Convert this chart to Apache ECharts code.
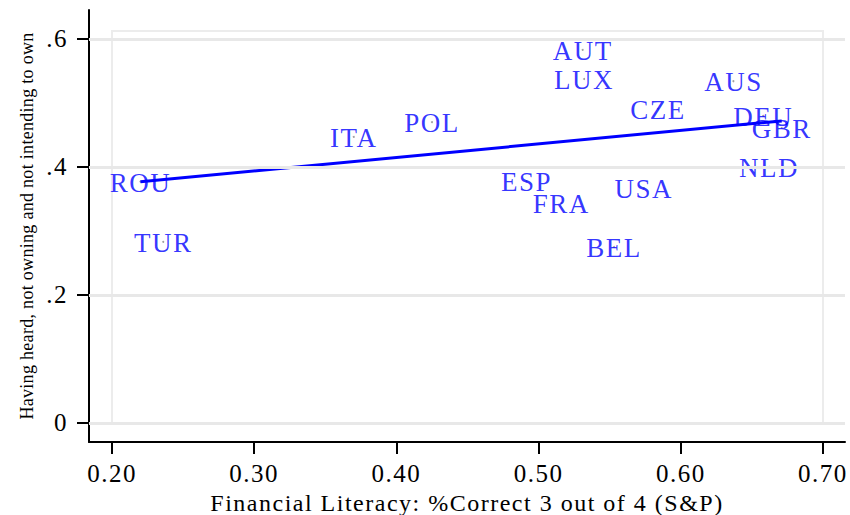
<!DOCTYPE html>
<html>
<head>
<meta charset="utf-8">
<script src="https://cdn.jsdelivr.net/npm/echarts@6/dist/echarts.min.js"></script>
<style>
  html, body { margin: 0; padding: 0; background: #fff; }
  #chart { width: 850px; height: 515px; }
  /* Stata-like loose tracking on the serif text */
  #chart svg text { letter-spacing: 1.5px; }
  #chart svg text[style*="18px"] { letter-spacing: 0.3px; }
</style>
</head>
<body>
<div id="chart"></div>
<script>
// Country codes and their values
const countries = ['ROU', 'TUR', 'ITA', 'POL', 'AUT', 'LUX', 'CZE', 'AUS', 'DEU', 'GBR', 'NLD', 'ESP', 'FRA', 'USA', 'BEL'];
const literacy  = [0.220, 0.236, 0.370, 0.425, 0.531, 0.532, 0.584, 0.637, 0.658, 0.671, 0.662, 0.4915, 0.516, 0.574, 0.553];
const heardNotOwning = [0.377, 0.283, 0.447, 0.470, 0.583, 0.5375, 0.491, 0.534, 0.480, 0.461, 0.400, 0.378, 0.344, 0.367, 0.275];

// Linear fit endpoints
const fitX = [0.220, 0.671];
const fitY = [0.377, 0.472];

// Tick labels
const xTicks = [0.2, 0.3, 0.4, 0.5, 0.6, 0.7];
const yTicks = [0, 0.2, 0.4, 0.6];

const serif = 'Liberation Serif';

const points = countries.map((c, i) => ({ name: c, value: [literacy[i], heardNotOwning[i]] }));
const fitLine = fitX.map((x, i) => [x, fitY[i]]);

const chart = echarts.init(document.getElementById('chart'), null, { renderer: 'svg' });
chart.setOption({
  animation: false,
  backgroundColor: '#ffffff',
  grid: { left: 89, right: 5, top: 10, bottom: 73, containLabel: false, outerBoundsMode: 'none' },
  xAxis: {
    type: 'value',
    min: 0.1838, max: 0.7155,
    name: 'Financial Literacy: %Correct 3 out of 4 (S&P)',
    nameLocation: 'middle',
    nameGap: 38,
    nameTextStyle: { fontFamily: serif, fontSize: 24, color: '#000' },
    axisLine: { show: true, onZero: false, lineStyle: { color: '#000', width: 2 } },
    axisTick: { show: true, customValues: xTicks, length: 12, lineStyle: { color: '#000', width: 2 } },
    axisLabel: {
      customValues: xTicks, margin: 19,
      fontFamily: serif, fontSize: 25, color: '#000',
      formatter: v => v.toFixed(2)
    },
    splitLine: { show: false }
  },
  yAxis: {
    type: 'value',
    min: -0.0297, max: 0.6453,
    name: 'Having heard, not owning and not intending to own',
    nameLocation: 'middle',
    nameGap: 53,
    nameTextStyle: { fontFamily: serif, fontSize: 18, color: '#000' },
    axisLine: { show: true, onZero: false, lineStyle: { color: '#000', width: 2 } },
    axisTick: { show: true, customValues: yTicks, length: 12, lineStyle: { color: '#000', width: 2 } },
    axisLabel: {
      customValues: yTicks, margin: 21,
      fontFamily: serif, fontSize: 25, color: '#000',
      formatter: v => (v === 0 ? '0' : v.toFixed(1).replace(/^0/, ''))
    },
    splitLine: { show: false }
  },
  series: [
    {
      type: 'scatter',
      data: points,
      symbol: 'circle',
      symbolSize: 2,
      itemStyle: { color: '#888' },
      z: 3,
      label: {
        show: true,
        position: 'inside',
        offset: [0, 1],
        formatter: p => p.name,
        fontFamily: serif,
        fontSize: 27,
        color: '#0000ff',
        textBorderWidth: 0
      },
      markLine: {
        silent: true,
        symbol: 'none',
        label: { show: false },
        lineStyle: { color: '#e8e8e8', width: 3, type: 'solid' },
        data: yTicks.map(v => ({ yAxis: v }))
      },
      markArea: {
        silent: true,
        itemStyle: { color: 'rgba(0,0,0,0)', borderColor: '#ececec', borderWidth: 2 },
        data: [[{ coord: [xTicks[0], 0] }, { coord: [xTicks[xTicks.length - 1], 0.6125] }]]
      }
    },
    {
      type: 'line',
      data: fitLine,
      showSymbol: false,
      z: 4,
      lineStyle: { color: '#0000ff', width: 3 }
    }
  ]
});
</script>
</body>
</html>
